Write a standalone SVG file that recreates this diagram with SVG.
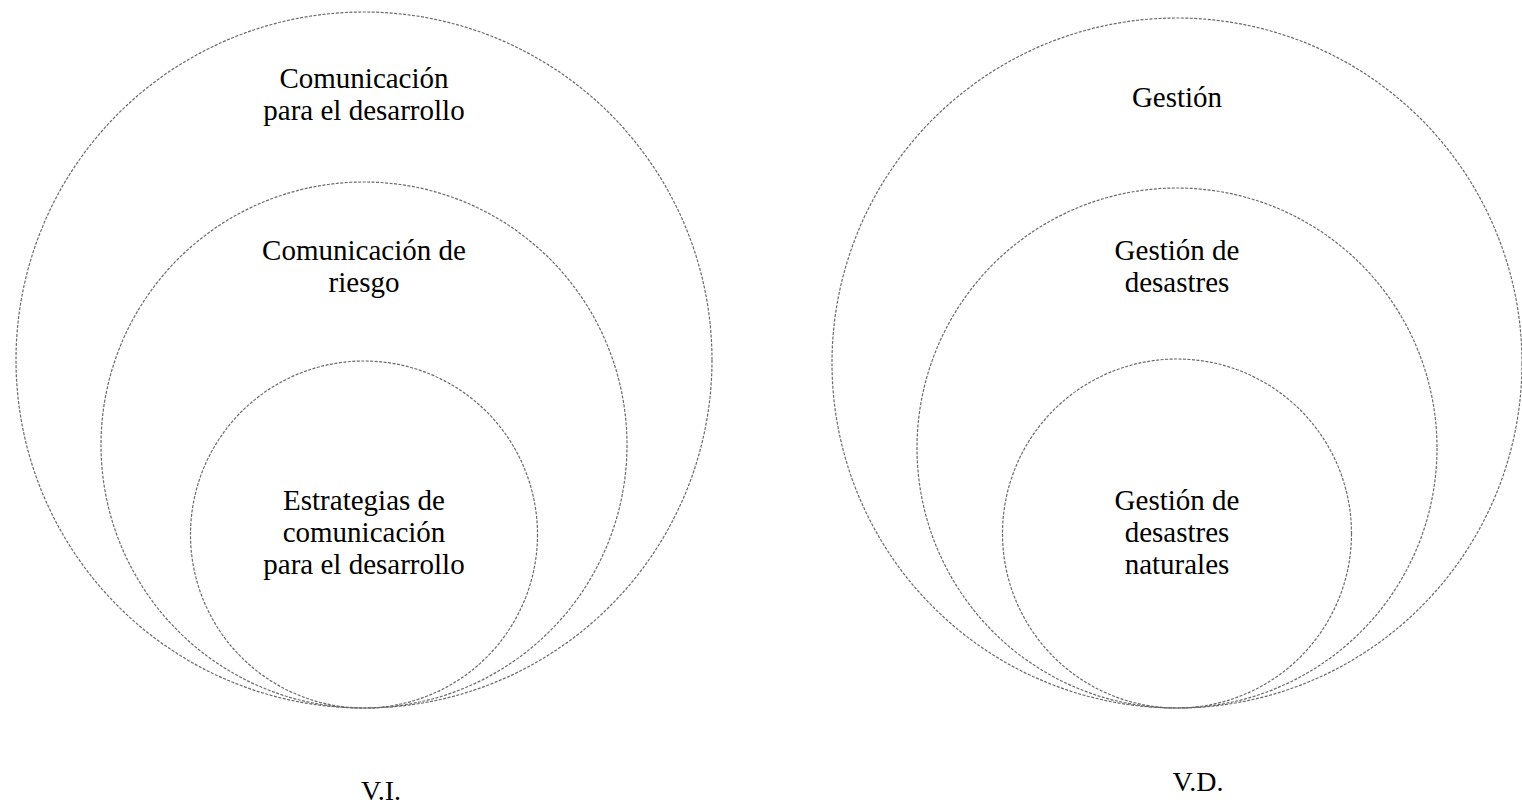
<svg xmlns="http://www.w3.org/2000/svg" width="1522" height="803" viewBox="0 0 1522 803">
<style>
.c{fill:none;stroke:#6a6a6a;stroke-width:1.2;stroke-dasharray:3 1.5}
.t{font-family:"Liberation Serif","Times New Roman",serif;font-size:29px;fill:#000;text-anchor:middle}
.l{font-family:"Liberation Serif","Times New Roman",serif;font-size:28px;fill:#000;text-anchor:middle}
</style>
<rect width="1522" height="803" fill="#fff"/>
<g id="vi-outer"><circle class="c" cx="364" cy="360" r="348"/><text class="t" x="364" y="88">Comunicación</text><text class="t" x="364" y="120">para el desarrollo</text></g>
<g id="vi-middle"><circle class="c" cx="364" cy="445" r="263"/><text class="t" x="364" y="260">Comunicación de</text><text class="t" x="364" y="292">riesgo</text></g>
<g id="vi-inner"><circle class="c" cx="364" cy="534.5" r="173.5"/><text class="t" x="364" y="510">Estrategias de</text><text class="t" x="364" y="542">comunicación</text><text class="t" x="364" y="574">para el desarrollo</text></g>
<g id="vd-outer"><circle class="c" cx="1177" cy="363" r="345"/><text class="t" x="1177" y="107">Gestión</text></g>
<g id="vd-middle"><circle class="c" cx="1177" cy="448" r="260"/><text class="t" x="1177" y="260">Gestión de</text><text class="t" x="1177" y="292">desastres</text></g>
<g id="vd-inner"><circle class="c" cx="1177" cy="533.5" r="174.5"/><text class="t" x="1177" y="510">Gestión de</text><text class="t" x="1177" y="542">desastres</text><text class="t" x="1177" y="574">naturales</text></g>
<g id="vi-label"><text class="l" x="381" y="800">V.I.</text></g>
<g id="vd-label"><text class="l" x="1198" y="791">V.D.</text></g>
<g id="connectors"></g>
</svg>
